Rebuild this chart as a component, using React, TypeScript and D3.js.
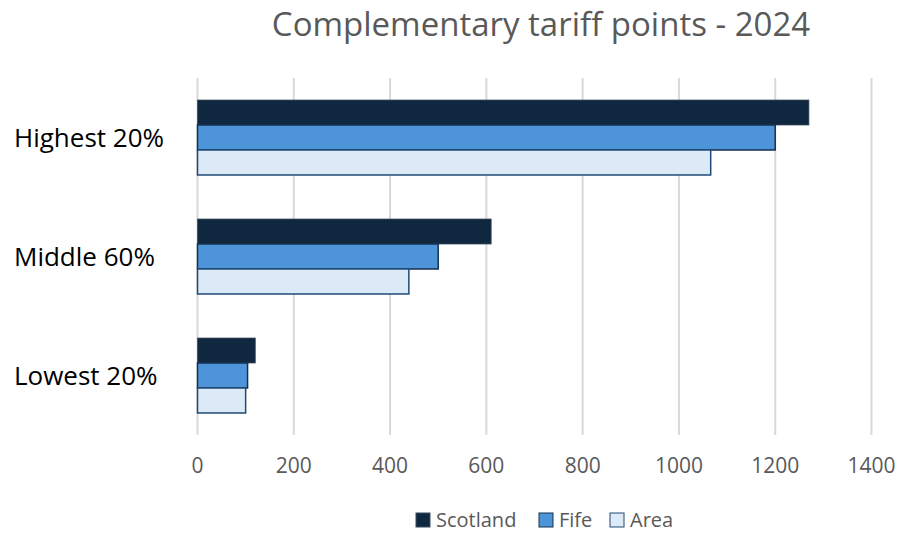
import React from "react";
import * as d3 from "d3";

const categories = ["Highest 20%", "Middle 60%", "Lowest 20%"];
const seriesNames = ["Scotland", "Fife", "Area"];
const scotland = [1270, 610, 120];
const fife = [1200, 500, 104];
const area = [1066, 439, 100];
const xTicks = [0, 200, 400, 600, 800, 1000, 1200, 1400];
const title = "Complementary tariff points - 2024";

const colors = ["#10283f", "#4e94d8", "#dce9f6"];
const strokes = ["#3a4a5e", "#15304f", "#1f4a78"];

export default function App() {
  const W = 899, H = 534;
  const x = d3.scaleLinear().domain([0, 1400]).range([197.5, 871.5]);
  const y0 = d3.scaleBand<string>().domain(categories).range([78, 435]).paddingInner(0.37).paddingOuter(0.185);
  const y1 = d3.scaleBand<string>().domain(seriesNames).range([0, y0.bandwidth()]);
  const data = [scotland, fife, area];
  const font = "'Open Sans', sans-serif";
  const legendX = [416, 539, 610];
  return (
    <svg width={W} height={H} style={{ position: "absolute", left: 0, top: 0, background: "#fff" }} fontFamily={font}>
      <text x={541} y={36} textAnchor="middle" fontSize={33} fill="#595959">{title}</text>
      {xTicks.map((t) => (
        <g key={t}>
          <line x1={x(t)} x2={x(t)} y1={78} y2={435} stroke="#d9d9d9" strokeWidth={2} />
          <text x={x(t)} y={473} textAnchor="middle" fontSize={21} fill="#595959">{t}</text>
        </g>
      ))}
      {categories.map((c, i) => (
        <g key={c}>
          {seriesNames.map((s, j) => (
            <rect key={s} x={x(0)} y={(y0(c) as number) + (y1(s) as number)} width={x(data[j][i]) - x(0)} height={y1.bandwidth()}
              fill={colors[j]} stroke={strokes[j]} strokeWidth={j === 0 ? 0.75 : 1.5} />
          ))}
          <text x={14} y={(y0(c) as number) + y0.bandwidth() / 2 + 9} fontSize={26} fill="#000">{c}</text>
        </g>
      ))}
      {seriesNames.map((s, j) => (
        <g key={s}>
          <rect x={legendX[j]} y={513} width={14} height={14} fill={colors[j]} stroke={strokes[j]} strokeWidth={1} />
          <text x={legendX[j] + 20} y={527} fontSize={20} fill="#595959">{s}</text>
        </g>
      ))}
    </svg>
  );
}
